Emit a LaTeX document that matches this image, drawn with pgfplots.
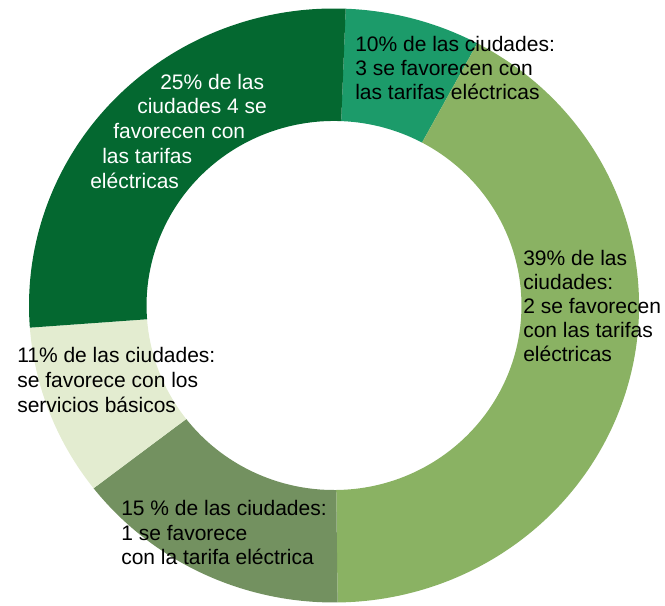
\documentclass[border=0pt]{standalone}
\usepackage{pgfplots}
\pgfplotsset{compat=1.18}
\usetikzlibrary{calc}
\usepackage{fontspec}
\setmainfont{Liberation Sans}

\definecolor{segA}{RGB}{28,155,106}
\definecolor{segB}{RGB}{138,178,99}
\definecolor{segC}{RGB}{115,145,96}
\definecolor{segD}{RGB}{227,236,208}
\definecolor{segE}{RGB}{4,104,48}

\tikzset{lbl/.style={font=\fontsize{15.75}{18.4}\selectfont, anchor=base west, inner sep=0pt, text=black},
         wlbl/.style={lbl, text=white}}

% ring segment: #1 = cumulative share at start, #2 = at end (percent), #3 = colour
% (overlay: the arcs' control points must not widen the page)
\newcommand{\ringseg}[3]{%
  \fill[#3, overlay] ($(axis cs:334,300.5)+({90-2.2-3.6*#1}:228.75pt and 222.75pt)$)
    arc[start angle={90-2.2-3.6*#1}, end angle={90-2.2-3.6*#2}, x radius=228.75pt, y radius=222.75pt]
    -- ($(axis cs:334,300.5)+({90-2.2-3.6*#2}:140.6pt and 138.4pt)$)
    arc[start angle={90-2.2-3.6*#2}, end angle={90-2.2-3.6*#1}, x radius=140.6pt, y radius=138.4pt]
    -- cycle;}

\begin{document}
\begin{tikzpicture}
\begin{axis}[
    x=0.75pt, y=0.75pt,
    xmin=0, xmax=665, ymin=0, ymax=606,
    hide axis, clip=false,
]
\path (rel axis cs:0,0) rectangle (rel axis cs:1,1);
% shares: 7.17, 42.03, 14.64, 9.36, 26.8
\ringseg{0}{7.17}{segA}
\ringseg{7.17}{49.2}{segB}
\ringseg{49.2}{63.84}{segC}
\ringseg{63.84}{73.2}{segD}
\ringseg{73.2}{100}{segE}

\node[lbl] at (axis cs:355,554) {10\% de las ciudades:};
\node[lbl] at (axis cs:355,530) {3 se favorecen con};
\node[lbl] at (axis cs:355,506) {las tarifas eléctricas};

\node[lbl] at (axis cs:523,340) {39\% de las};
\node[lbl] at (axis cs:523,316) {ciudades:};
\node[lbl] at (axis cs:523,292) {2 se favorecen};
\node[lbl] at (axis cs:523,268) {con las tarifas};
\node[lbl] at (axis cs:523,244) {eléctricas};

\node[wlbl] at (axis cs:160,516) {25\% de las};
\node[wlbl] at (axis cs:137,492) {ciudades 4 se};
\node[wlbl] at (axis cs:113,467) {favorecen con};
\node[wlbl] at (axis cs:102,442) {las tarifas};
\node[wlbl] at (axis cs:90,417) {eléctricas};

\node[lbl] at (axis cs:17,243) {11\% de las ciudades:};
\node[lbl] at (axis cs:17,218) {se favorece con los};
\node[lbl] at (axis cs:17,193) {servicios básicos};

\node[lbl] at (axis cs:121,90) {15 \% de las ciudades:};
\node[lbl] at (axis cs:121,65) {1 se favorece};
\node[lbl] at (axis cs:121,41) {con la tarifa eléctrica};
\end{axis}
\end{tikzpicture}
\end{document}
